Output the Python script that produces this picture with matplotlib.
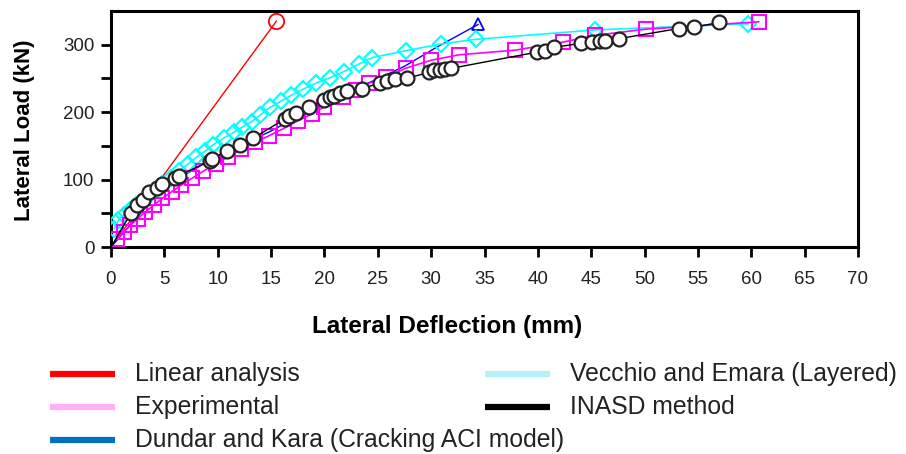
import matplotlib
matplotlib.use('Agg')
import matplotlib.pyplot as plt
from matplotlib.lines import Line2D

plt.rcParams['font.family'] = ['Liberation Sans', 'DejaVu Sans']

# Linear analysis
linear_x = [0, 15.5]
linear_y = [0, 335]

# Experimental
exp_x = [0.6, 1.2, 1.8, 2.5, 3.2, 4.0, 4.8, 5.7, 6.6, 7.6, 8.6, 9.8, 11.0, 12.2,
         13.5, 14.8, 16.2, 17.5, 18.8, 20.0, 21.7, 23.0, 24.2, 25.8, 27.6, 30.0,
         32.6, 37.9, 42.4, 45.4, 50.1, 60.7]
exp_y = [12, 22, 32, 42, 52, 62, 72, 82, 92, 102, 112, 123, 134, 145,
         155, 165, 176, 187, 197, 208, 222, 233, 243, 252, 265, 277,
         285, 292, 304, 314, 323, 334]

# Dundar and Kara (Cracking ACI model)
dk_x = [0, 5, 10, 15, 20, 24.8, 27.5, 30.7, 34.4]
dk_y = [0, 90, 135, 172, 215, 248, 268, 298, 330]

# Vecchio and Emara (Layered)
ve_x = [0.3, 0.7, 1.2, 1.8, 2.3, 2.9, 3.5, 4.1, 4.8, 5.6, 6.4, 7.2, 8.0, 8.8,
        9.6, 10.6, 11.5, 12.3, 13.2, 14.0, 14.9, 15.9, 16.9, 18.0, 19.2, 20.5,
        21.8, 23.2, 24.5, 27.6, 30.9, 34.2, 45.4, 59.7]
ve_y = [27, 40, 48, 55, 62, 68, 76, 84, 93, 103, 113, 123, 133, 142,
        152, 162, 170, 178, 186, 196, 207, 216, 225, 234, 243, 251,
        260, 271, 281, 291, 301, 308, 322, 331]

# INASD method
inasd_x = [0, 1.9, 2.4, 3.0, 3.6, 4.3, 4.8, 6.0, 6.4, 9.3, 9.5, 10.9, 12.1, 13.3,
           16.3, 16.7, 17.3, 18.6, 20.0, 20.5, 20.9, 21.5, 22.1, 23.5, 25.2,
           25.9, 26.6, 27.7, 29.8, 30.3, 30.8, 31.3, 31.9, 39.9, 40.7, 41.5,
           44.0, 45.1, 45.8, 46.3, 47.6, 53.2, 54.6, 57.0]
inasd_y = [0, 51, 62, 70, 81, 87, 93, 102, 106, 128, 131, 143, 151, 161,
           190, 194, 198, 207, 218, 222, 224, 229, 232, 235, 243,
           246, 249, 250, 259, 262, 263, 264, 265, 289, 291, 296,
           302, 304, 305, 306, 309, 324, 326, 333]

legend_names = ['Linear analysis', 'Experimental', 'Dundar and Kara (Cracking ACI model)',
                'Vecchio and Emara (Layered)', 'INASD method']
legend_colors = ['#ff0000', '#ffb0f6', '#0070c0', '#b4f2fa', '#000000']

fig = plt.figure(figsize=(9.06, 4.54), dpi=100)
ax = fig.add_axes([111 / 906, 1 - 247 / 454, 747 / 906, 236 / 454])

ax.plot(linear_x, linear_y, color='#ff0000', lw=1, zorder=2)
ax.plot(linear_x[-1:], linear_y[-1:], 'o', ms=11, mfc='none', mec='#ff0000', mew=1.3, zorder=2)

ax.plot(dk_x, dk_y, color='#0000ff', lw=1, zorder=2)
ax.plot(dk_x[-1:], dk_y[-1:], '^', ms=8.5, mfc='none', mec='#0000ff', mew=1.3, zorder=2)

ax.plot(ve_x, ve_y, color='#00ffff', lw=1.2, marker='D', ms=8, mfc='none',
        mec='#00ffff', mew=1.5, zorder=3)

ax.plot(exp_x, exp_y, color='#ff00ff', lw=1.2, marker='s', ms=9.5, mfc='none',
        mec='#ff00ff', mew=1.5, zorder=4)

ax.plot(inasd_x, inasd_y, color='black', lw=1, zorder=5)
ax.plot(inasd_x[1:], inasd_y[1:], 'o', ms=10, mfc='white', mec='#222222', mew=1.6, zorder=6)

ax.set_xlim(0, 70)
ax.set_ylim(0, 350)
ax.set_xticks(range(0, 71, 5))
ax.set_yticks([0, 100, 200, 300])
ax.set_yticks([50, 150, 250], minor=True)

for s in ax.spines.values():
    s.set_linewidth(2.2)
ax.tick_params(axis='both', which='both', direction='out', width=2, length=7,
               labelsize=13.5, colors='black', labelcolor='#222222')
ax.tick_params(axis='x', pad=10)
ax.tick_params(axis='y', pad=5)

fig.text(25 / 906, 1 - 130 / 454, 'Lateral Load (kN)', rotation=90, ha='center', va='center',
         fontsize=16, fontweight='bold')
fig.text(447 / 906, 1 - 326 / 454, 'Lateral Deflection (mm)', ha='center', va='center',
         fontsize=17.5, fontweight='bold')

# legend drawn by hand: the columns overlap, so a regular legend does not fit
pos = [(50, 374), (50, 407), (50, 440), (485, 374), (485, 407)]
for (px, py), name, col in zip(pos, legend_names, legend_colors):
    fig.add_artist(Line2D([px / 906, (px + 65) / 906], [1 - py / 454, 1 - py / 454],
                          color=col, lw=4.5, solid_capstyle='butt'))
    fig.text((px + 85) / 906, 1 - py / 454, name, ha='left', va='center', fontsize=17.8,
             color='#222222')

fig.savefig('out.png', dpi=100)
